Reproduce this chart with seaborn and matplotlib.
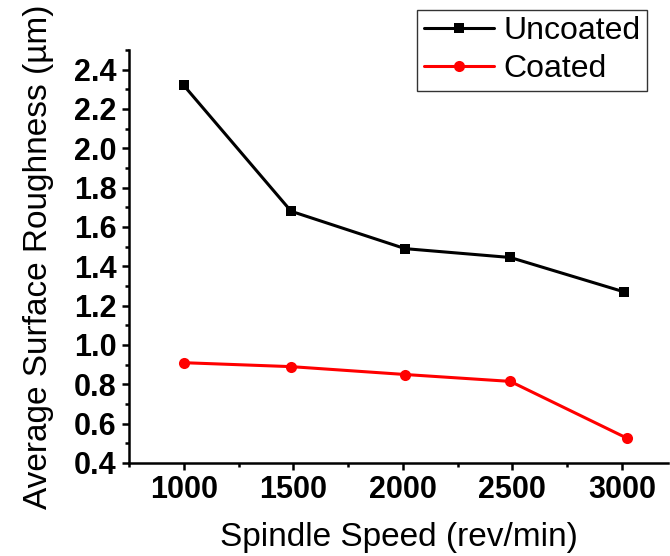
import matplotlib
matplotlib.use("Agg")
import matplotlib.pyplot as plt
from matplotlib.ticker import MultipleLocator
import seaborn as sns
import pandas as pd

speed_uncoated = [1000, 1490, 2010, 2490, 3010]
rough_uncoated = [2.32, 1.68, 1.49, 1.445, 1.27]
speed_coated = [1000, 1490, 2010, 2490, 3025]
rough_coated = [0.91, 0.89, 0.85, 0.815, 0.525]
series_names = ["Uncoated", "Coated"]
x_ticks = [1000, 1500, 2000, 2500, 3000]
y_ticks = [0.4, 0.6, 0.8, 1.0, 1.2, 1.4, 1.6, 1.8, 2.0, 2.2, 2.4]

df_u = pd.DataFrame({"speed": speed_uncoated, "rough": rough_uncoated, "type": series_names[0]})
df_c = pd.DataFrame({"speed": speed_coated, "rough": rough_coated, "type": series_names[1]})

sns.set_theme(style="ticks")
plt.rcParams["font.family"] = ["Liberation Sans", "DejaVu Sans"]
plt.rcParams["text.color"] = "black"
plt.rcParams["axes.labelcolor"] = "black"
plt.rcParams["xtick.color"] = "black"
plt.rcParams["ytick.color"] = "black"

fig = plt.figure(figsize=(6.7, 5.56), dpi=100)
ax = fig.add_axes([129 / 670, 93 / 556, (668 - 129) / 670, (463 - 50) / 556])

sns.lineplot(data=df_u, x="speed", y="rough", ax=ax, color="black", marker="s",
             markersize=7, markeredgewidth=0, linewidth=2.2, label=series_names[0])
sns.lineplot(data=df_c, x="speed", y="rough", ax=ax, color="red", marker="o",
             markersize=8, markeredgewidth=0, linewidth=2.2, label=series_names[1])

ax.set_xlim(750, 3210)
ax.set_ylim(0.4, 2.5)
ax.xaxis.set_minor_locator(MultipleLocator(250))
ax.yaxis.set_minor_locator(MultipleLocator(0.1))
ax.set_xticks(x_ticks)
ax.set_xticklabels([str(v) for v in x_ticks])
ax.set_yticks(y_ticks)
ax.set_yticklabels([f"{v:.1f}" for v in y_ticks])

for s in ["top", "right"]:
    ax.spines[s].set_visible(False)
for s in ["left", "bottom"]:
    ax.spines[s].set_linewidth(1.8)
    ax.spines[s].set_color("black")

ax.tick_params(which="major", direction="out", length=5, width=1.8, colors="black",
               labelsize=22, pad=4)
ax.tick_params(which="minor", direction="out", length=3, width=1.8, colors="black")
for lab in ax.get_xticklabels() + ax.get_yticklabels():
    lab.set_fontweight("bold")
    lab.set_color("black")

ax.set_xlabel("Spindle Speed (rev/min)", fontsize=24, labelpad=12, color="black")
ax.set_ylabel("Average Surface Roughness (µm)", fontsize=24, labelpad=14, color="black")

leg = ax.legend(loc="upper right", bbox_to_anchor=(647 / 670, 1 - 10 / 556),
                bbox_transform=fig.transFigure, borderaxespad=0, frameon=True,
                fancybox=False, fontsize=23, handlelength=2.2, handletextpad=0.3,
                borderpad=0.2, labelspacing=0.25)
leg.get_frame().set_edgecolor("black")
leg.get_frame().set_linewidth(1.0)
for t in leg.get_texts():
    t.set_color("black")

fig.savefig("out.png", dpi=100)
